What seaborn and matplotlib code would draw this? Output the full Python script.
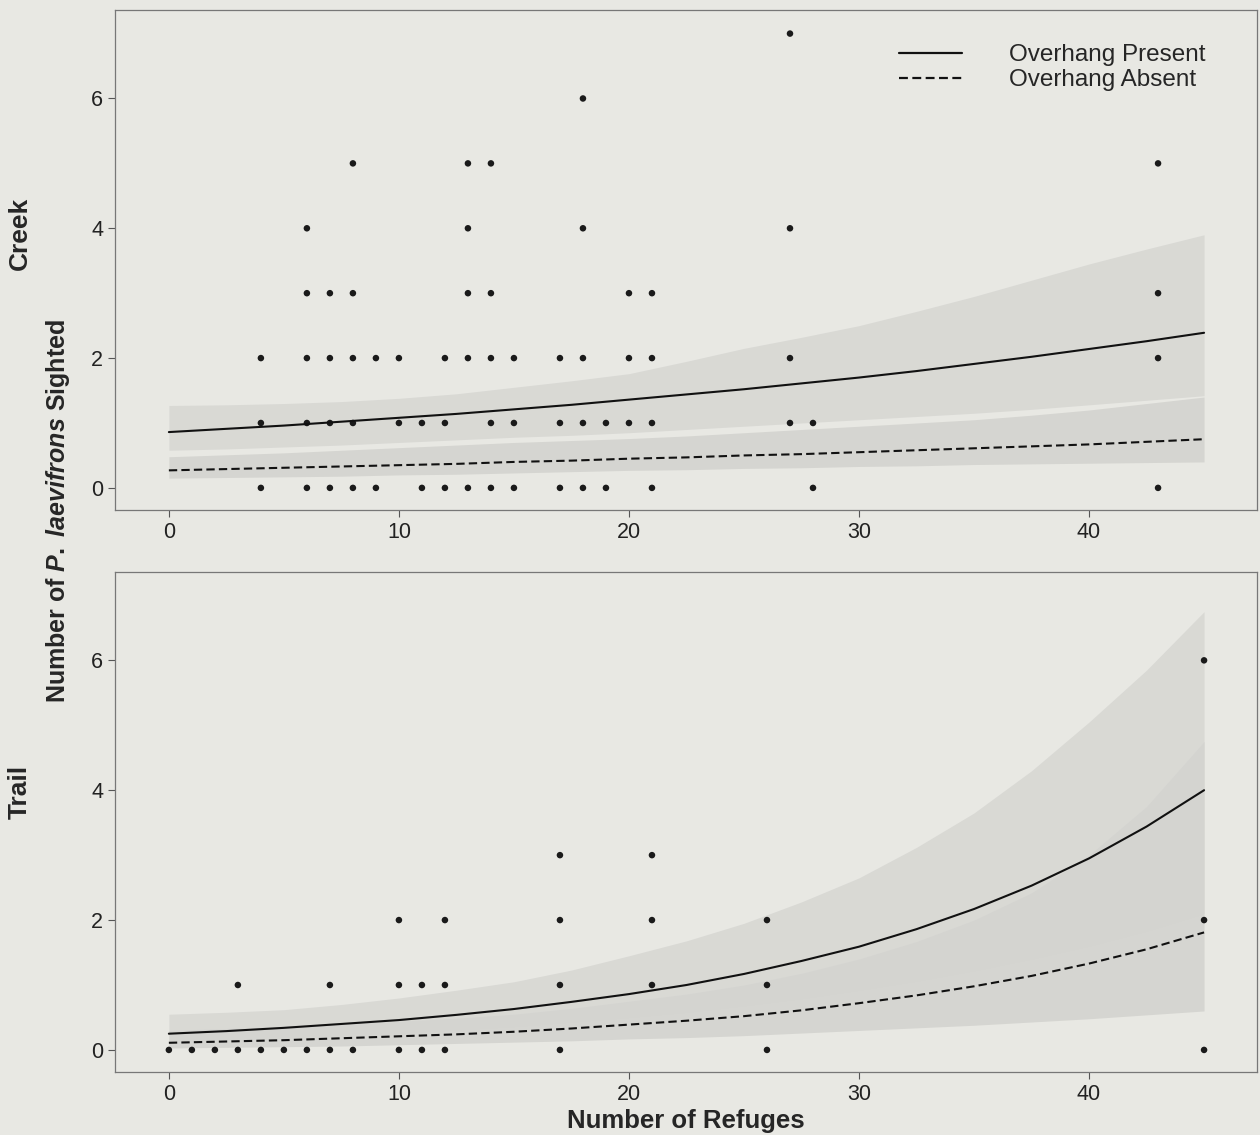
import numpy as np
import pandas as pd
import matplotlib
matplotlib.use("Agg")
import matplotlib.pyplot as plt
import seaborn as sns

# ---------------- data ----------------
creek_refuges = [4, 6, 7, 8, 9, 11, 12, 13, 14, 15, 17, 18, 19, 21, 28, 43,
                 4, 6, 7, 8, 10, 11, 12, 14, 15, 17, 18, 19, 20, 21, 27, 28,
                 4, 6, 7, 8, 9, 10, 12, 13, 14, 15, 17, 18, 20, 21, 27, 43,
                 6, 7, 8, 13, 14, 20, 21, 43,
                 6, 13, 18, 27,
                 8, 13, 14, 43,
                 18,
                 27]
creek_sighted = [0] * 16 + [1] * 16 + [2] * 16 + [3] * 8 + [4] * 4 + [5] * 4 + [6] + [7]

trail_refuges = [0, 1, 2, 3, 4, 5, 6, 7, 8, 10, 11, 12, 17, 26, 45,
                 3, 7, 10, 11, 12, 17, 21, 26,
                 10, 12, 17, 21, 26, 45,
                 17, 21,
                 45]
trail_sighted = [0] * 15 + [1] * 8 + [2] * 6 + [3] * 2 + [6]

curve_x = [0, 2.5, 5, 7.5, 10, 12.5, 15, 17.5, 20, 22.5, 25, 27.5, 30, 32.5, 35, 37.5, 40, 42.5, 45]

creek_present = [0.86, 0.91, 0.96, 1.02, 1.08, 1.14, 1.21, 1.28, 1.36, 1.44, 1.52, 1.61, 1.70, 1.80, 1.91, 2.02, 2.14, 2.26, 2.39]
creek_present_lo = [0.58, 0.60, 0.63, 0.66, 0.70, 0.74, 0.78, 0.81, 0.85, 0.90, 0.95, 1.00, 1.05, 1.10, 1.15, 1.21, 1.28, 1.35, 1.42]
creek_present_hi = [1.27, 1.28, 1.30, 1.33, 1.38, 1.45, 1.55, 1.65, 1.76, 1.95, 2.15, 2.32, 2.50, 2.72, 2.95, 3.20, 3.45, 3.68, 3.90]
creek_absent = [0.27, 0.29, 0.31, 0.33, 0.35, 0.37, 0.40, 0.42, 0.45, 0.47, 0.50, 0.52, 0.55, 0.58, 0.61, 0.64, 0.67, 0.71, 0.75]
creek_absent_lo = [0.15, 0.16, 0.17, 0.18, 0.20, 0.21, 0.23, 0.25, 0.27, 0.28, 0.30, 0.31, 0.33, 0.34, 0.36, 0.37, 0.38, 0.39, 0.40]
creek_absent_hi = [0.48, 0.51, 0.54, 0.58, 0.62, 0.66, 0.70, 0.73, 0.76, 0.80, 0.85, 0.90, 0.95, 1.00, 1.05, 1.12, 1.20, 1.30, 1.40]

trail_present = [0.25, 0.29, 0.34, 0.40, 0.46, 0.54, 0.63, 0.74, 0.86, 1.00, 1.17, 1.37, 1.59, 1.86, 2.17, 2.53, 2.95, 3.44, 4.00]
trail_present_lo = [0.12, 0.15, 0.18, 0.22, 0.26, 0.31, 0.36, 0.43, 0.50, 0.58, 0.68, 0.79, 0.92, 1.06, 1.22, 1.40, 1.60, 1.83, 2.10]
trail_present_hi = [0.55, 0.58, 0.62, 0.70, 0.80, 0.92, 1.05, 1.23, 1.45, 1.68, 1.95, 2.28, 2.65, 3.12, 3.65, 4.30, 5.05, 5.85, 6.75]
trail_absent = [0.11, 0.13, 0.15, 0.18, 0.21, 0.24, 0.28, 0.33, 0.39, 0.45, 0.52, 0.61, 0.72, 0.84, 0.98, 1.14, 1.33, 1.55, 1.81]
trail_absent_lo = [0.03, 0.04, 0.05, 0.06, 0.08, 0.10, 0.12, 0.14, 0.17, 0.19, 0.22, 0.26, 0.30, 0.34, 0.38, 0.43, 0.48, 0.54, 0.60]
trail_absent_hi = [0.30, 0.33, 0.36, 0.40, 0.44, 0.49, 0.55, 0.64, 0.75, 0.86, 1.00, 1.18, 1.40, 1.67, 2.00, 2.42, 3.00, 3.75, 4.75]

x_ticks = [0, 10, 20, 30, 40]
y_ticks = [0, 2, 4, 6]
legend_labels = ["Overhang Present", "Overhang Absent"]
site_labels = ["Creek", "Trail"]

# ---------------- style ----------------
BG = "#e8e8e3"
sns.set_theme(style="ticks")
plt.rcParams["font.family"] = ["Liberation Sans", "DejaVu Sans"]
plt.rcParams["mathtext.fontset"] = "custom"
plt.rcParams["mathtext.it"] = "Liberation Sans:bold:italic"
plt.rcParams["mathtext.rm"] = "Liberation Sans:bold"

fig = plt.figure(figsize=(12.6, 11.35), dpi=100, facecolor=BG)
ax1 = fig.add_axes([0.0913, 0.5507, 0.9063, 0.4403])
ax2 = fig.add_axes([0.0913, 0.0555, 0.9063, 0.4405])

panels = [
    (ax1, creek_refuges, creek_sighted, creek_present, creek_present_lo, creek_present_hi,
     creek_absent, creek_absent_lo, creek_absent_hi),
    (ax2, trail_refuges, trail_sighted, trail_present, trail_present_lo, trail_present_hi,
     trail_absent, trail_absent_lo, trail_absent_hi),
]

for i, (ax, xs, ys, pr, prlo, prhi, ab, ablo, abhi) in enumerate(panels):
    ax.set_facecolor(BG)
    ax.fill_between(curve_x, ablo, abhi, color="#cfcfcb", alpha=0.75, linewidth=0, zorder=1)
    ax.fill_between(curve_x, prlo, prhi, color="#d4d4d0", alpha=0.75, linewidth=0, zorder=1)
    pts = pd.DataFrame({"refuges": xs, "sighted": ys})
    sns.scatterplot(data=pts, x="refuges", y="sighted", ax=ax, color="#1a1a1a",
                    s=22, edgecolor="none", zorder=3, legend=False)
    curves = pd.DataFrame({"x": curve_x * 2, "y": pr + ab,
                           "group": [legend_labels[0]] * len(curve_x) + [legend_labels[1]] * len(curve_x)})
    sns.lineplot(data=curves, x="x", y="y", style="group", ax=ax, color="#111111",
                 linewidth=1.5, dashes={legend_labels[0]: "", legend_labels[1]: (4, 2)},
                 legend=(i == 0), zorder=4)
    ax.set_xlim(-2.34, 47.3)
    ax.set_ylim(-0.34, 7.36)
    ax.set_xticks(x_ticks)
    ax.set_yticks(y_ticks)
    ax.tick_params(labelsize=15.5, length=5, width=0.8, color="#555555", labelcolor="#222222")
    for sp in ax.spines.values():
        sp.set_visible(True)
        sp.set_color("#777777")
        sp.set_linewidth(0.9)
    ax.set_xlabel("")
    ax.set_ylabel("")

leg = ax1.legend(loc="upper right", bbox_to_anchor=(0.9545, 0.932), frameon=False, fontsize=17.5,
                 handlelength=2.6, handletextpad=1.9, labelspacing=0.12,
                 borderpad=0, borderaxespad=0)
for h in leg.get_lines():
    h.set_linewidth(1.6)
    h.set_color("#111111")

ax2.set_xlabel("Number of Refuges", fontsize=18.5, fontweight="bold", labelpad=3)

fig.text(0.016, 0.794, site_labels[0], rotation=90, fontsize=19, fontweight="bold",
         ha="center", va="center")
fig.text(0.016, 0.302, site_labels[1], rotation=90, fontsize=19, fontweight="bold",
         ha="center", va="center")
fig.text(0.046, 0.55, r"Number of $\mathit{P.}$ $\mathit{laevifrons}$ Sighted", rotation=90,
         fontsize=18, fontweight="bold", ha="center", va="center")

fig.savefig("out.png", dpi=100, facecolor=BG)
